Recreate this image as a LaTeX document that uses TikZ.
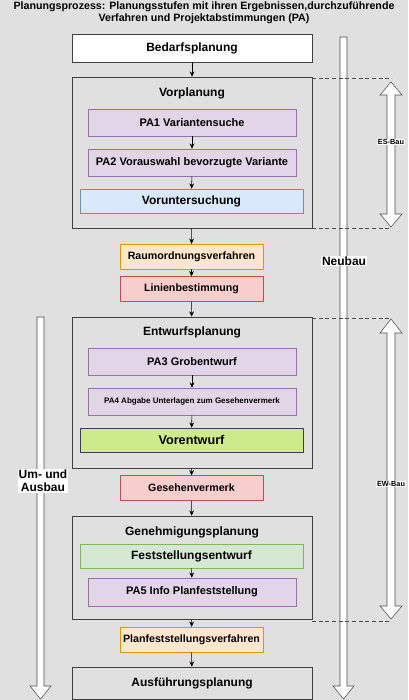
\documentclass[tikz,border=0pt]{standalone}
\usepackage{fontspec}
\setmainfont{Liberation Sans}
\usetikzlibrary{arrows.meta}

\definecolor{bggray}{HTML}{E0E0E0}
\definecolor{lilafill}{HTML}{E1D5E7}
\definecolor{lilaline}{HTML}{9673A6}
\definecolor{blaufill}{HTML}{DAE8FC}
\definecolor{blauline}{HTML}{6C8EBF}
\definecolor{orangefill}{HTML}{FFE6CC}
\definecolor{orangeline}{HTML}{D79B00}
\definecolor{rotfill}{HTML}{F8CECC}
\definecolor{rotline}{HTML}{B85450}
\definecolor{gelbgruenfill}{HTML}{CDEB8B}
\definecolor{gruenfill}{HTML}{D5E8D4}
\definecolor{gruenline}{HTML}{82B366}

\tikzset{
  stufe/.style={draw=black!75, inner sep=0pt, font=\bfseries\fontsize{9}{10}\selectfont},
  pabox/.style={draw=lilaline, fill=lilafill, inner sep=0pt, minimum width=156pt, minimum height=20.25pt, font=\bfseries\fontsize{8.25}{9}\selectfont},
  ergebnis/.style={draw=#1, inner sep=0pt, minimum width=167.25pt, minimum height=18pt, font=\bfseries\fontsize{9}{10}\selectfont},
  verfahren/.style={inner sep=0pt, minimum width=107.25pt, minimum height=18.5pt, font=\bfseries\fontsize{8}{9}\selectfont},
  pfeil/.style={-{Stealth[length=4pt,width=3.5pt]}, black},
  hohl/.style={draw=black!70, fill=white},
  marke/.style={fill=white, inner sep=0.5pt, font=\bfseries\fontsize{9}{10}\selectfont}
}

\begin{document}
\begin{tikzpicture}[x=0.75pt,y=-0.75pt]
\fill[bggray] (0,0) rectangle (408,700);
\useasboundingbox (0,0) rectangle (408,700);

% Titel
\node[align=center, font=\bfseries\fontsize{8}{9}\selectfont] (titel) at (204,12.5)
  {Planungsprozess: Planungsstufen mit ihren Ergebnissen,durchzuführende\\Verfahren und Projektabstimmungen (PA)};

% Neubau und Um- und Ausbau
\draw[hohl] (340,37) -- (347,37) -- (347,686) -- (354,686) -- (343.5,699) -- (333,686) -- (340,686) -- cycle;
\draw[hohl] (37,317) -- (44,317) -- (44,686) -- (51,686) -- (40.5,699) -- (30,686) -- (37,686) -- cycle;

% ES-Bau und EW-Bau
\draw[hohl] (391,82) -- (402,95) -- (395,95) -- (395,214) -- (402,214) -- (391,227) -- (380,214) -- (387,214) -- (387,95) -- (380,95) -- cycle;
\draw[hohl] (391,319) -- (402,333) -- (395,333) -- (395,606) -- (402,606) -- (391,619) -- (380,606) -- (387,606) -- (387,333) -- (380,333) -- cycle;
\draw[black!70, densely dashed, thin] (312,78) -- (392,78);
\draw[black!70, densely dashed, thin] (312,228) -- (392,228);
\draw[black!70, densely dashed, thin] (312,318) -- (392,318);
\draw[black!70, densely dashed, thin] (312,621) -- (392,621);

\node[marke] (neubau) at (344,261) {Neubau};
\node[marke, align=center] (umbau) at (43,481) {Um- und\\Ausbau};
\node[marke, font=\bfseries\fontsize{5.5}{6}\selectfont] (esbau) at (391,142) {ES-Bau};
\node[marke, font=\bfseries\fontsize{5.5}{6}\selectfont] (ewbau) at (391,484) {EW-Bau};

% Planungsstufen
\node[stufe, fill=white, minimum width=180pt, minimum height=21pt] (bedarf) at (192,48) {Bedarfsplanung};

\node[stufe, minimum width=180pt, minimum height=113.25pt] (vorpl) at (192,152.5) {};
\node[font=\bfseries\fontsize{9}{10}\selectfont] (vorpltitel) at (192,93) {Vorplanung};
\node[pabox] (pa1) at (192,122.5) {PA1 Variantensuche};
\node[pabox] (pa2) at (192,162.5) {PA2 Vorauswahl bevorzugte Variante};
\node[ergebnis=blauline, fill=blaufill] (vorunt) at (191.5,201) {Voruntersuchung};

\node[verfahren, draw=orangeline, fill=orangefill] (raum) at (191.5,256.5) {Raumordnungsverfahren};
\node[verfahren, draw=rotline, fill=rotfill] (linien) at (191.5,289) {Linienbestimmung};

\node[stufe, minimum width=180pt, minimum height=113.25pt] (entw) at (192,392.5) {};
\node[font=\bfseries\fontsize{9}{10}\selectfont] (entwtitel) at (192,332) {Entwurfsplanung};
\node[pabox] (pa3) at (192,361.5) {PA3 Grobentwurf};
\node[pabox, font=\bfseries\fontsize{6}{7}\selectfont] (pa4) at (192,401.5) {PA4 Abgabe Unterlagen zum Gesehenvermerk};
\node[ergebnis=black!75, fill=gelbgruenfill, font=\bfseries\fontsize{9.5}{11}\selectfont] (vorentw) at (191.5,440) {Vorentwurf};

\node[verfahren, draw=rotline, fill=rotfill] (gesehen) at (191.5,488) {Gesehenvermerk};

\node[stufe, minimum width=180pt, minimum height=77.25pt] (genehm) at (192,567.5) {};
\node[font=\bfseries\fontsize{9}{10}\selectfont] (genehmtitel) at (192,532) {Genehmigungsplanung};
\node[ergebnis=gruenline, fill=gruenfill] (fest) at (191.5,556) {Feststellungsentwurf};
\node[pabox, minimum height=21pt] (pa5) at (192,592) {PA5 Info Planfeststellung};

\node[verfahren, draw=orangeline, fill=orangefill] (planfest) at (191.5,639.5) {Planfeststellungsverfahren};
\node[stufe, minimum width=180pt, minimum height=24pt] (ausf) at (192,683) {Ausführungsplanung};

% Verbindungen
\draw[pfeil] (bedarf) -- (vorpl);
\draw[pfeil] (pa1) -- (pa2);
\draw[pfeil] (pa2) -- (vorunt);
\draw[pfeil] (vorpl) -- (raum);
\draw[pfeil] (raum) -- (linien);
\draw[pfeil] (linien) -- (entw);
\draw[pfeil] (pa3) -- (pa4);
\draw[pfeil] (pa4) -- (vorentw);
\draw[pfeil] (entw) -- (gesehen);
\draw[pfeil] (gesehen) -- (genehm);
\draw[pfeil] (fest) -- (pa5);
\draw[pfeil] (genehm) -- (planfest);
\draw[pfeil] (planfest) -- (ausf);

\end{tikzpicture}
\end{document}
